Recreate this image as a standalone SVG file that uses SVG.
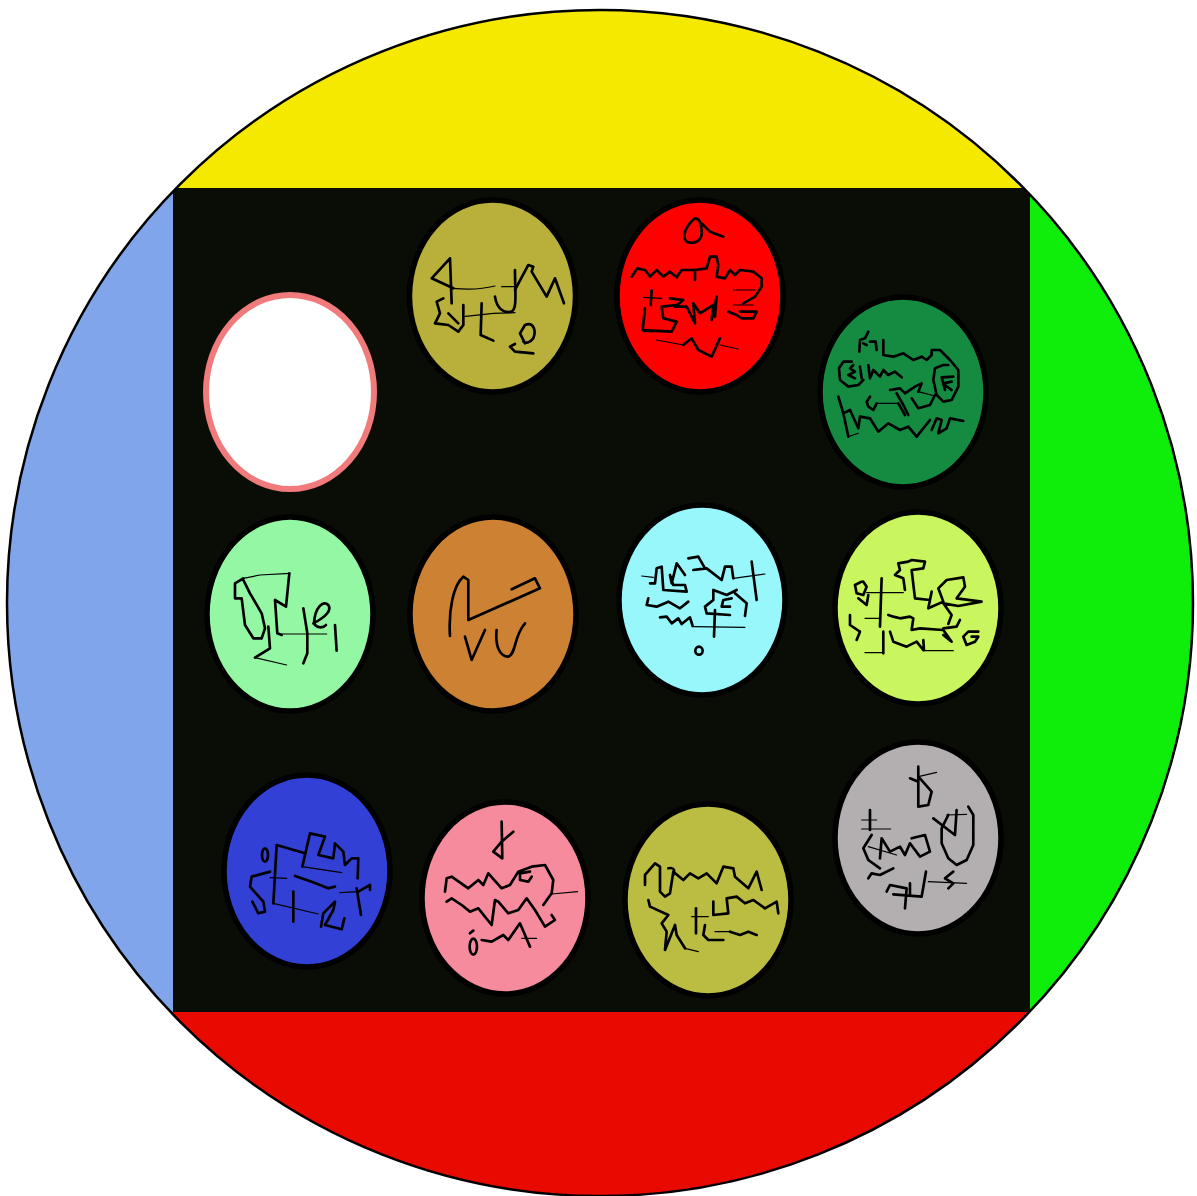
<svg xmlns="http://www.w3.org/2000/svg" width="1197" height="1196" viewBox="0 0 1197 1196">
<style>
.n{stroke:#000;stroke-width:5.500}
.s path,.s ellipse{fill:none;stroke:#000;stroke-width:8;stroke-linejoin:round;stroke-linecap:round}
.s .t{stroke-width:3.500}
</style>
<defs><clipPath id="disc"><circle cx="600" cy="603" r="593"/></clipPath></defs>
<rect width="1197" height="1196" fill="#fff"/>
<g id="disc-bands" clip-path="url(#disc)">
<rect x="0" y="0" width="1197" height="188" fill="#f5e900"/>
<rect x="0" y="1012" width="1197" height="184" fill="#e80900"/>
<rect x="0" y="188" width="173" height="824" fill="#81a5ea"/>
<rect x="1030" y="188" width="167" height="824" fill="#0fee0a"/>
<rect x="173" y="188" width="857" height="824" fill="#0a0d05"/>
</g>
<circle id="disc-outline" cx="600" cy="603" r="593" fill="none" stroke="#000" stroke-width="2.500"/>
<g id="node-white"><ellipse cx="290" cy="392" rx="84" ry="97" fill="#fff" stroke="#f07a7c" stroke-width="6"/></g>
<g id="node-olive">
<ellipse class="n" cx="492.500" cy="296" rx="83" ry="96" fill="#b9b03b"/>
<g class="s" transform="translate(400 190) scale(.3333)">
<path d="M155 340L150 205L95 265L160 295"/><path class="t" d="M160 295Q230 302 285 288"/>
<path d="M285 320C290 355 310 370 335 365C352 355 345 310 345 240"/><path class="t" d="M345 290L305 290"/>
<path d="M345 300L385 225L400 230L395 245L440 320L465 265L492 340"/>
<path d="M130 325L110 335L120 370L105 400L145 405L175 425L190 405L190 345M145 370L175 400"/>
<path d="M245 340L242 435L280 452"/><path class="t" d="M190 380L280 370L345 368"/>
<path d="M375 460L360 430L375 405C400 395 410 420 400 445C390 460 375 460 370 455M345 462L330 470L345 485L400 490"/>
</g></g>
<g id="node-red">
<ellipse class="n" cx="700" cy="296" rx="83" ry="96" fill="#fe0000"/>
<g class="s" transform="translate(400 190) scale(.3333)">
<path d="M885 85C855 110 845 140 860 155C885 165 905 150 905 130C905 105 900 85 885 85M905 100L930 125L970 140"/>
<path d="M695 260L712 235L735 240L750 260L770 240L790 260L810 245L830 262L845 240L885 240L885 270M885 240L920 235L930 200L950 200L955 225L950 260L975 265L990 240L1005 255L1020 240L1060 245L1085 265L1085 290L1065 320L1030 340"/>
<path class="t" d="M1000 300L1065 300M730 322L785 325M1000 345L1060 345M730 425L815 425"/>
<path d="M755 300L752 345M735 355L728 420L815 425L830 395L790 385L785 350L830 345"/>
<path d="M810 325L850 330L825 350L860 350L870 370L885 400L880 340L900 370L940 345L935 390L950 320L945 380"/>
<path d="M985 365L1010 375L1025 385L1060 385L1070 365L1020 365"/>
<path d="M850 465L875 445L895 480L935 500L960 445"/><path class="t" d="M770 450L850 465M960 465L1015 477"/>
</g></g>
<g id="node-darkgreen">
<ellipse class="n" cx="903" cy="392" rx="83" ry="95" fill="#158a41"/>
<g class="s" transform="translate(815 290) scale(.3333)">
<path d="M160 125L150 145L135 150L133 185M145 160L155 165M165 155L182 155L185 180"/>
<path d="M205 150L205 195L235 200L265 190L295 210L320 200L335 210L350 195L350 180L375 180L405 210L430 240L430 290L410 330L385 335L365 315L355 270L360 235L385 225L400 225"/>
<path d="M110 215L85 215L72 235L75 270L100 290L130 285L145 270M115 225L105 235L120 245L100 255L120 265"/>
<path d="M135 230L140 265M160 225L165 265L175 240L195 260L205 240L220 255L240 245L260 262"/>
<path d="M380 262L390 300M380 262L415 260M385 280L410 275M390 285L410 300"/>
<path d="M225 300L255 295L270 310L300 290L320 280L310 305"/><path class="t" d="M310 305L360 318"/>
<path d="M165 320L155 335L160 350L175 360L185 340"/><path class="t" d="M185 340L250 340"/>
<path d="M250 340L270 375M245 310L265 345L280 375M290 325L310 355L345 345L360 315"/>
<path d="M70 320L85 370L100 440M85 370L105 360L130 415L135 380L165 385L190 425L220 400L255 420L280 410L305 440L345 390M350 420L365 385L380 390L370 430L395 415L405 385L445 393"/><path class="t" d="M100 440L130 430"/>
</g></g>
<g id="node-lightgreen">
<ellipse class="n" cx="290" cy="614" rx="83" ry="97" fill="#94f7a3"/>
<g class="s" transform="translate(200 510) scale(.3333)">
<path class="t" d="M270 190L180 195L130 205"/>
<path d="M130 205L105 220L105 265L125 265L135 345L160 385L185 385L195 355L185 310L150 250L130 210"/>
<path d="M268 190L258 290L225 270L232 370L245 375"/><path class="t" d="M245 372L380 372"/>
<path d="M205 350L210 415L165 443"/><path class="t" d="M165 443L260 465"/>
<path d="M310 295L322 370L322 430L310 460"/>
<path d="M340 340C380 320 395 300 385 285C370 270 345 290 342 340C350 355 370 355 378 345"/>
<path d="M405 345L410 422"/>
</g></g>
<g id="node-orange">
<ellipse class="n" cx="493" cy="614" rx="83" ry="97" fill="#cd8233"/>
<g class="s" transform="translate(200 510) scale(.3333)">
<path d="M750 378C745 300 760 225 790 200L805 210L805 330L1020 235L1005 205L935 238"/>
<path d="M795 380L815 450L855 360"/>
<path d="M890 360C885 410 900 440 925 440C950 430 940 380 975 340"/>
</g></g>
<g id="node-cyan">
<ellipse class="n" cx="702" cy="600" rx="83" ry="95" fill="#97f7fb"/>
<g class="s" transform="translate(610 500) scale(.3333)">
<path class="t" d="M95 228L130 232M370 235L465 222M250 380L405 382"/>
<path d="M120 250L135 250L140 205L155 200L160 270L230 275L225 255L190 255L180 225L185 250L200 190L225 225"/>
<path d="M235 175L265 170L285 205L250 210L290 205L335 240L345 200L365 200L370 235"/>
<path d="M425 185L440 300"/>
<path d="M115 295L110 315L140 320L175 305L210 325L235 305"/>
<path d="M150 352L170 350L185 370L205 355L215 372L240 352L248 378"/>
<path d="M315 330L312 410"/>
<path d="M380 270L350 285L310 270L310 300L285 320L290 340L360 345M365 295L340 300L335 320L360 320M375 280L410 310L405 348"/>
<ellipse cx="267" cy="452" rx="11" ry="12"/>
</g></g>
<g id="node-lime">
<ellipse class="n" cx="918" cy="608" rx="83" ry="96" fill="#c9f65e"/>
<g class="s" transform="translate(610 500) scale(.3333)">
<path d="M755 245L735 255L740 280L760 285L770 260L760 245M745 295L770 315L775 285"/><path class="t" d="M770 278L880 278M765 355L810 355M765 458L820 458M940 452L1030 452"/>
<path d="M815 235L810 380"/>
<path d="M885 270L880 235L855 225L870 210L865 190L895 185L905 180L945 185L940 205L905 210L915 295L960 300L955 325L1000 305L985 265L1010 240L1060 232L1065 260L1040 295L1115 305L1045 318L1000 310L1025 345L1015 372M965 275L960 300"/>
<path d="M720 345L720 375L750 395L740 420"/>
<path d="M835 345L850 350L870 355L900 350L910 355L905 390L930 385L1000 390L1025 425L1000 405M1000 385L1040 380L1050 360"/>
<path d="M820 395L820 460M840 395L850 425L890 440L920 425L940 450M940 420L942 450"/>
<path d="M1105 395L1075 395L1060 410L1070 435L1095 425L1105 410L1085 410"/>
</g></g>
<g id="node-blue">
<ellipse class="n" cx="307" cy="871" rx="83" ry="96" fill="#3240d5"/>
<g class="s" transform="translate(215 770) scale(.3333)">
<ellipse cx="150" cy="255" rx="9" ry="20"/>
<path d="M185 225L175 400M185 225L270 250"/><path class="t" d="M175 400L310 432M262 290L380 308M165 323L215 325M375 368L430 365"/>
<path d="M285 190L262 290M285 190L330 200L310 255L355 265L360 220L385 245L390 285L410 265L430 265L428 325"/>
<path d="M165 305L110 320L105 350L145 395L150 425L130 430L112 395"/>
<path d="M235 365L235 455"/>
<path d="M240 318L290 335L340 355L360 350"/>
<path d="M425 355L438 435M430 365L465 345L465 360"/>
<path d="M318 470L325 430L360 395L355 420L330 465L380 478L388 445"/>
</g></g>
<g id="node-pink">
<ellipse class="n" cx="505" cy="898" rx="83" ry="96" fill="#f68b9d"/>
<g class="s" transform="translate(215 770) scale(.3333)">
<path d="M860 155L862 265L835 245L860 215L895 185"/>
<path d="M690 365L695 325L710 320L760 355L790 330L805 345L820 310L860 355L885 345L910 305L950 290L990 285L1015 330L1010 370L985 405M945 305L915 310L915 330L940 335L950 320"/><path class="t" d="M1010 372L1088 365M920 505L965 505"/>
<path d="M695 395L710 385L740 405L765 425L790 415L830 465L840 390L850 395L880 430L910 420L935 385L960 420L990 470L1020 450L1010 435"/>
<ellipse cx="775" cy="530" rx="11" ry="24"/>
<path d="M765 490L775 482M800 510L830 515L865 495L880 510L915 460L945 530"/>
</g></g>
<g id="node-olive2">
<ellipse class="n" cx="708" cy="900" rx="83" ry="96" fill="#bbbd43"/>
<g class="s" transform="translate(620 735) scale(.3333)">
<path d="M75 450L75 420L105 385L120 395L120 470L135 485L150 475L160 410L190 435L210 415L235 430L260 415L290 445L310 395L340 400L345 425L385 460L410 410L425 465M145 400C165 395 165 410 160 420"/>
<path d="M85 495L90 515L145 540L125 565L140 590L135 645L165 570L170 600L195 640"/><path class="t" d="M195 640L235 650M215 545L265 545M285 590L330 590"/>
<path d="M228 520L228 595"/>
<path d="M280 500L280 540L325 535L320 490L350 485L375 505L400 495L435 520L470 500L475 535"/>
<path d="M255 570L250 600L265 615L310 615M330 590L360 600L385 590L410 600"/>
</g></g>
<g id="node-gray">
<ellipse class="n" cx="918" cy="838" rx="83" ry="96" fill="#b3afb0"/>
<g class="s" transform="translate(620 735) scale(.3333)">
<path d="M895 95L895 215L925 210L935 170L900 130M870 130L895 140"/><path class="t" d="M895 125L950 112M725 255L770 255M725 282L812 282M980 240L1040 238M745 335L830 360M925 440L1040 445"/>
<path d="M750 225L750 285"/>
<path d="M940 250L1005 300L1010 225M1045 215L1060 240L1060 330L1040 375L1010 390L985 370L965 325L965 280L985 240"/>
<path d="M780 370L785 310L810 350L840 335L855 360L870 325L900 365L930 350L915 300L875 310"/>
<path d="M755 300L730 340L745 375L780 400"/>
<path d="M745 430L755 415L780 420L820 400"/>
<path d="M800 470L810 450L860 460L855 520M820 478L905 485L918 410M1000 410L975 430L1000 445L985 460M870 445L870 480"/>
</g></g>
</svg>
